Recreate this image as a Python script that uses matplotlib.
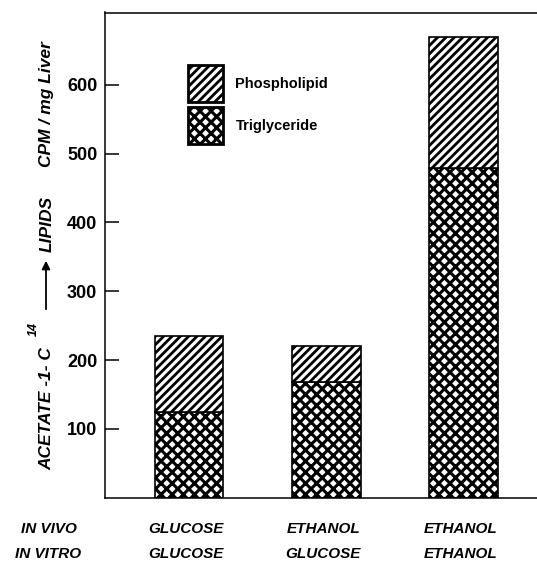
import matplotlib
matplotlib.use('Agg')
import matplotlib.pyplot as plt
from matplotlib import transforms

# ---- data ----
in_vivo = ['GLUCOSE', 'ETHANOL', 'ETHANOL']
in_vitro = ['GLUCOSE', 'GLUCOSE', 'ETHANOL']
triglyceride = [125, 168, 479]
phospholipid = [110, 52, 191]
series_labels = ['Phospholipid', 'Triglyceride']
yticks = [100, 200, 300, 400, 500, 600]
row_labels = ['IN VIVO', 'IN VITRO']

TG_HLW = 2.2
PL_HLW = 2.0

W, H = 537, 563
fig = plt.figure(figsize=(W / 100, H / 100), dpi=100)
ax = fig.add_axes([105 / W, 1 - 497.8 / H, 1 - 105 / W, (497.8 - 12.5) / H])

x = list(range(len(in_vivo)))
with plt.rc_context({'hatch.linewidth': TG_HLW}):
    tg = ax.bar(x, triglyceride, width=0.5, color='white', edgecolor='black',
                hatch='xxx', linewidth=1.2)
with plt.rc_context({'hatch.linewidth': PL_HLW}):
    pl = ax.bar(x, phospholipid, bottom=triglyceride, width=0.5, color='white',
                edgecolor='black', hatch='////', linewidth=1.2)
for p in tg:
    if hasattr(p, 'set_hatch_linewidth'):
        p.set_hatch_linewidth(TG_HLW)
for p in pl:
    if hasattr(p, 'set_hatch_linewidth'):
        p.set_hatch_linewidth(PL_HLW)

ax.set_xlim(-0.612, 2.535)
ax.set_ylim(0, 705)
ax.set_xticks([])
ax.set_yticks(yticks)
ax.set_yticklabels([str(v) for v in yticks], fontfamily=['Liberation Sans', 'DejaVu Sans'],
                   fontweight='bold', fontsize=13)
ax.tick_params(axis='y', direction='in', length=10, width=1.1, pad=5.5)
ax.spines['right'].set_visible(False)
for s in ['left', 'top', 'bottom']:
    ax.spines[s].set_linewidth(1.1)

# legend
leg = ax.legend([pl, tg], series_labels, loc='upper left',
                bbox_to_anchor=(188 / W, 1 - 65 / H), bbox_transform=fig.transFigure,
                frameon=False, borderpad=0, borderaxespad=0,
                handlelength=2.4, handleheight=3.53, labelspacing=0.34,
                handletextpad=0.85,
                prop=dict(family=['Liberation Sans', 'DejaVu Sans'], weight='bold', size=10.5))
for h, hlw in zip(leg.legend_handles, [PL_HLW, TG_HLW]):
    h.set_linewidth(2.0)
    if hasattr(h, 'set_hatch_linewidth'):
        h.set_hatch_linewidth(hlw)
    else:
        h._hatch_linewidth = hlw

# category labels
cat_font = dict(family=['Liberation Sans', 'DejaVu Sans'],
                style='italic', weight='bold', size=11)
trans = transforms.offset_copy(ax.get_xaxis_transform(), fig=fig, x=-3, y=0, units='dots')
y_row1 = (497.8 - 533) / (497.8 - 12.5)
y_row2 = (497.8 - 558) / (497.8 - 12.5)
for i in x:
    ax.text(i, y_row1, in_vivo[i], transform=trans, ha='center', va='baseline', **cat_font)
    ax.text(i, y_row2, in_vitro[i], transform=trans, ha='center', va='baseline', **cat_font)
fig.text(48.5 / W, 1 - 533 / H, row_labels[0], ha='center', va='baseline', **cat_font)
fig.text(48.5 / W, 1 - 558 / H, row_labels[1], ha='center', va='baseline', **cat_font)

# y label pieces
yl_font = dict(family=['Liberation Sans', 'DejaVu Sans'], style='italic', weight='bold', size=12.5)
fig.text(47 / W, 1 - 470 / H, 'ACETATE -1- C', rotation=90, ha='center', va='bottom', **yl_font)
fig.text(34 / W, 1 - 336 / H, '14', rotation=90, ha='center', va='bottom',
         family=['Liberation Sans', 'DejaVu Sans'], style='italic', weight='bold', size=9)
ax.annotate('', xy=(46 / W, 1 - 258 / H), xytext=(46 / W, 1 - 312 / H),
            xycoords='figure fraction', textcoords='figure fraction',
            arrowprops=dict(arrowstyle='-|>', color='black', lw=1.3, mutation_scale=12))
fig.text(47 / W, 1 - 252 / H, 'LIPIDS', rotation=90, ha='center', va='bottom', **yl_font)
fig.text(47 / W, 1 - 167 / H, 'CPM / mg Liver', rotation=90, ha='center', va='bottom', **yl_font)

fig.savefig('out.png', dpi=100)
